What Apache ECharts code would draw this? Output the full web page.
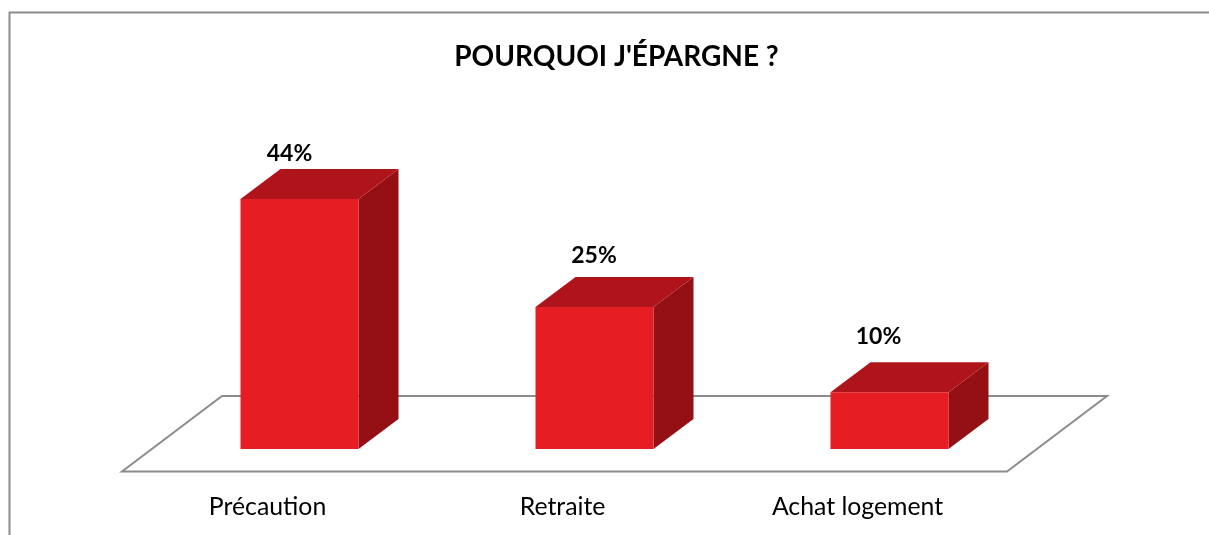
<!DOCTYPE html>
<html>
<head>
<meta charset="utf-8">
<style>html,body{margin:0;padding:0;background:#fff}#c{width:1209px;height:535px}</style>
<script src="https://cdn.jsdelivr.net/npm/echarts@6/dist/echarts.min.js"></script>
</head>
<body>
<div id="c"></div>
<script>
const categories = ['Précaution', 'Retraite', 'Achat logement'];
const values = [44, 25, 10];
const titleText = "POURQUOI J'ÉPARGNE ?";

const FONT = 'Lato, "Open Sans", sans-serif';
const DEPTH_X = 40, DEPTH_Y = -30;
const LABEL_NUDGE = [[-10, -16], [-0.5, -21.5], [-11, -26]];

const chart = echarts.init(document.getElementById('c'), null, {renderer: 'canvas'});

function renderBar(params, api) {
  const i = params.dataIndex;
  const p = api.coord([api.value(0), api.value(1)]);
  const b = api.coord([api.value(0), 0]);
  const w = api.size([1, 0])[0] * 0.4;
  const L = p[0] - w / 2, R = p[0] + w / 2, T = p[1], B = b[1];
  const poly = (pts, fill) => ({type: 'polygon', shape: {points: pts}, style: {fill: fill}, silent: true});
  return {
    type: 'group',
    children: [
      poly([[R, T], [R + DEPTH_X, T + DEPTH_Y], [R + DEPTH_X, B + DEPTH_Y], [R, B]], '#951014'),
      poly([[L, T], [L + DEPTH_X, T + DEPTH_Y], [R + DEPTH_X, T + DEPTH_Y], [R, T]], '#AE141A'),
      poly([[L, T], [R, T], [R, B], [L, B]], '#E71D24'),
      {
        type: 'text',
        style: {
          x: p[0] + LABEL_NUDGE[i][0],
          y: T + DEPTH_Y + LABEL_NUDGE[i][1],
          text: api.value(1) + '%',
          fill: '#000',
          font: 'bold 23px ' + FONT,
          align: 'center',
          verticalAlign: 'middle'
        }
      }
    ]
  };
}

chart.setOption({
  animation: false,
  backgroundColor: '#fff',
  title: {
    text: titleText,
    left: 611.5, top: 38,
    textAlign: 'center',
    textStyle: {fontFamily: FONT, fontWeight: 'bold', fontSize: 28, color: '#000'}
  },
  grid: {left: 152, width: 885, top: 165, height: 284, containLabel: false},
  xAxis: {
    type: 'category',
    data: categories,
    axisLine: {show: false},
    axisTick: {show: false},
    splitLine: {show: false},
    axisLabel: {fontFamily: FONT, fontSize: 24.8, color: '#000', margin: 46, padding: [0, 64, 0, 0]}
  },
  yAxis: {type: 'value', min: 0, max: 50, show: false},
  graphic: [
    {type: 'polyline', z: -1, silent: true,
     shape: {points: [[9.5, 535], [9.5, 12.5], [1209, 12.5]]},
     style: {stroke: '#8c8c8c', lineWidth: 2, fill: null}},
    {type: 'polygon', z: -1, silent: true,
     shape: {points: [[122, 471.5], [222, 396], [1107, 396], [1007, 471.5]]},
     style: {stroke: '#8c8c8c', lineWidth: 2, fill: '#fff'}}
  ],
  series: [{
    type: 'custom',
    renderItem: renderBar,
    encode: {x: 0, y: 1},
    data: categories.map((c, i) => [i, values[i]]),
    z: 5
  }]
});
</script>
</body>
</html>
